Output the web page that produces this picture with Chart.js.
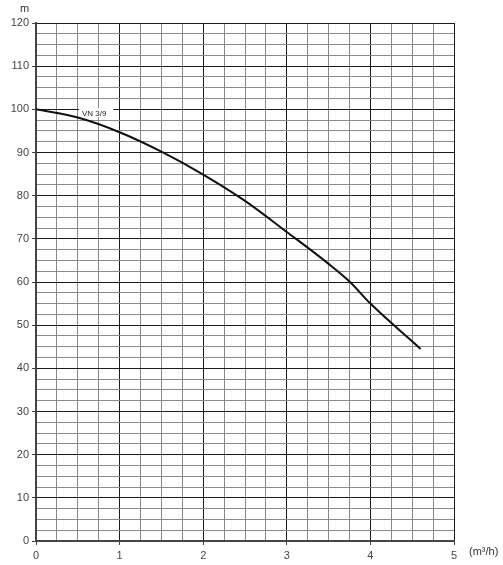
<!DOCTYPE html>
<html>
<head>
<meta charset="utf-8">
<script src="https://cdn.jsdelivr.net/npm/chart.js@4"></script>
<style>
  html, body { margin: 0; padding: 0; background: #fff; }
  #wrap { width: 503px; height: 565px; }
</style>
</head>
<body>
<div id="wrap"><canvas id="pump" width="503" height="565"></canvas></div>
<script>
// Pump curve VN 3/9 — head (m) vs flow (m3/h)
const flow = [0, 0.5, 1, 1.5, 2, 2.5, 3, 3.5, 3.75, 4, 4.6];
const head = [100, 98.1, 94.7, 90.2, 84.9, 78.8, 71.6, 64.2, 60.1, 55.0, 44.5];
const curveName = 'VN 3/9';
const labelAt = [0.55, 98.9];   // data position of the curve label
const yUnit = 'm';
const xUnit = '(m\u00b3/h)';

const FONT = '"Liberation Sans", Arial, sans-serif';
const isMajor = (v, step) => Math.abs(v / step - Math.round(v / step)) < 1e-6;

const labels = {
  id: 'labels',
  // curve label sits on a white box that breaks the 100 m grid line, under the curve
  beforeDatasetsDraw(chart) {
    const { ctx, scales: { x, y } } = chart;
    ctx.save();
    ctx.font = '8px ' + FONT;
    ctx.textBaseline = 'middle';
    const px = x.getPixelForValue(labelAt[0]);
    const py = y.getPixelForValue(labelAt[1]);
    const w = ctx.measureText(curveName).width;
    ctx.fillStyle = '#fff';
    ctx.fillRect(px - 3, py - 6, w + 10, 9);
    ctx.fillStyle = '#222';
    ctx.fillText(curveName, px, py);
    ctx.restore();
  },
  afterDraw(chart) {
    const { ctx, scales: { x, y } } = chart;
    ctx.save();
    ctx.font = '11px ' + FONT;
    ctx.fillStyle = '#333';
    ctx.textBaseline = 'middle';
    ctx.textAlign = 'left';
    ctx.fillText(yUnit, x.left - 16, y.top - 14);
    ctx.fillText(xUnit, x.getPixelForValue(5) + 15, x.bottom - 13);
    ctx.restore();
  }
};

new Chart(document.getElementById('pump'), {
  type: 'line',
  data: {
    datasets: [{
      data: flow.map((f, i) => ({ x: f, y: head[i] })),
      borderColor: '#111',
      borderWidth: 2,
      pointRadius: 0,
      cubicInterpolationMode: 'monotone',
      fill: false
    }]
  },
  options: {
    responsive: false,
    animation: false,
    layout: { padding: { left: 0, top: 23, right: 49, bottom: 0 } },
    plugins: { legend: { display: false }, tooltip: { enabled: false } },
    scales: {
      x: {
        type: 'linear', min: 0, max: 5,
        afterFit(s) { s.height = 24; },
        afterBuildTicks(s) {
          s.ticks = [];
          for (let v = 0; v <= 5.0001; v += 0.25) s.ticks.push({ value: +v.toFixed(2) });
        },
        border: { color: '#444', width: 2 },
        grid: {
          color: c => isMajor(c.tick.value, 1) ? '#1a1a1a' : '#8a8a8a',
          lineWidth: 1,
          tickLength: 4,
          tickColor: c => isMajor(c.tick.value, 1) ? '#444' : 'rgba(0,0,0,0)'
        },
        ticks: {
          autoSkip: false, maxRotation: 0, padding: 4,
          color: '#444', font: { family: FONT, size: 11 },
          callback: v => isMajor(v, 1) ? String(Math.round(v)) : ''
        }
      },
      y: {
        type: 'linear', min: 0, max: 120,
        afterFit(s) { s.width = 36; },
        afterBuildTicks(s) {
          s.ticks = [];
          for (let v = 0; v <= 120.001; v += 2.5) s.ticks.push({ value: +v.toFixed(1) });
        },
        border: { color: '#444', width: 2 },
        grid: {
          color: c => isMajor(c.tick.value, 10) ? '#1a1a1a' : '#8a8a8a',
          lineWidth: 1,
          tickLength: 4,
          tickColor: c => isMajor(c.tick.value, 10) ? '#444' : 'rgba(0,0,0,0)'
        },
        ticks: {
          autoSkip: false, padding: 3,
          color: '#444', font: { family: FONT, size: 11 },
          callback: v => isMajor(v, 10) ? String(Math.round(v)) : ''
        }
      }
    }
  },
  plugins: [labels]
});
</script>
</body>
</html>
